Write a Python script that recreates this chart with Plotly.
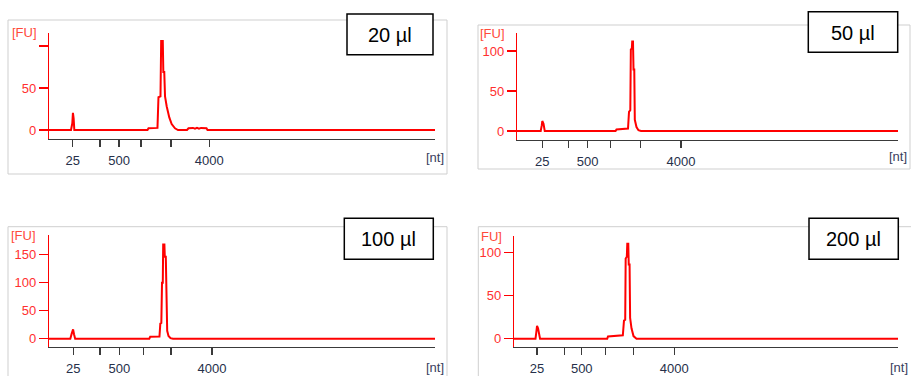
import plotly.graph_objects as go

W, H = 911, 376

# ---------------- data ----------------
panel_labels = ["20 µl", "50 µl", "100 µl", "200 µl"]

# migration time (s) and fluorescence (FU)
t_20 = [19.0, 21.85, 22.02, 22.10, 22.19, 22.28, 31.76, 31.89, 33.05, 33.18, 33.44, 33.53, 33.74, 33.81,
        33.93, 34.03, 34.25, 34.58, 34.89, 35.32, 35.71, 36.88, 37.07, 37.65, 37.91, 38.17, 38.43, 38.69,
        39.40, 39.53, 69.0]
fu_20 = [0, 0, 8, 20.5, 14, 0, 0, 2, 2.5, 39, 40, 106, 106, 69,
         69, 40, 28, 15, 7, 2, 0, 0, 2, 2.5, 1.5, 2.5, 1.5, 2.5,
         2, 0, 0]

t_50 = [19.0, 22.11, 22.25, 22.32, 22.48, 22.64, 31.93, 32.06, 33.57, 33.70, 33.87, 33.94, 34.07, 34.12,
        34.22, 34.29, 34.39, 34.46, 34.68, 34.94, 35.27, 69.0]
fu_50 = [0, 0, 7, 12.5, 9, 0, 0, 2, 3, 24, 26, 102, 103, 112,
         112, 77, 77, 14, 5, 1, 0, 0]

t_100 = [19.0, 21.76, 21.94, 22.12, 22.24, 22.39, 31.99, 32.11, 33.31, 33.42, 33.55, 33.64, 33.74, 33.79,
         33.95, 34.00, 34.13, 34.22, 34.31, 34.48, 34.74, 35.06, 69.0]
fu_100 = [0, 0, 9, 16.7, 8, 0, 0, 3.5, 4, 27, 28, 100, 100, 168,
          168, 146, 146, 45, 14, 5, 1, 0, 0]

t_200 = [19.0, 21.80, 21.90, 22.00, 22.13, 22.23, 22.39, 31.14, 31.24, 33.17, 33.32, 33.48, 33.54, 33.69,
         33.75, 33.88, 33.94, 34.05, 34.12, 34.30, 34.56, 34.95, 69.0]
fu_200 = [0, 0, 7, 14.8, 12, 7, 0, 0, 2.5, 4, 21, 22, 93, 95,
          110, 110, 86, 86, 24, 12, 3, 0, 0]

# ladder positions (s) for 25, 200, 500, 1000, 2000, 4000 nt
ladder_nt = ["25", "", "500", "", "", "4000"]
ladder_20 = [22.07, 25.61, 28.07, 30.92, 34.80, 39.76]
ladder_50 = [22.32, 25.73, 28.28, 31.24, 35.18, 40.52]
ladder_100 = [22.15, 25.61, 28.11, 31.21, 34.80, 40.11]
ladder_200 = [21.99, 25.55, 27.82, 30.94, 34.59, 39.87]

y_ticks_20 = [0, 50, 100]
y_text_20 = ["0", "50", ""]
y_ticks_50 = [0, 50, 100]
y_text_50 = ["0", "50", "100"]
y_ticks_100 = [0, 50, 100, 150]
y_text_100 = ["0", "50", "100", "150"]
y_ticks_200 = [0, 50, 100]
y_text_200 = ["0", "50", "100"]

# ---------------- layout helpers ----------------
def px(x):
    return x / W

def py(y):
    return 1 - y / H

panels = [
    dict(t=t_20, fu=fu_20, ladder=ladder_20, yt=y_ticks_20, ytt=y_text_20,
         xd=(49, 435), yd=(33, 139), yr=(-10.7, 115.5),
         border=(8, 20, 447, 174), box=(347, 14, 433, 54.7),
         fu_pos=(10, 33), fu_txt="[FU]", nt_pos=(446, 157.5)),
    dict(t=t_50, fu=fu_50, ladder=ladder_50, yt=y_ticks_50, ytt=y_text_50,
         xd=(517, 898), yd=(33, 140), yr=(-11.25, 122.5),
         border=(478, 25, 910, 169), box=(808.3, 11.7, 897.7, 52.3),
         fu_pos=(478, 33.3), fu_txt="[FU]", nt_pos=(909, 156)),
    dict(t=t_100, fu=fu_100, ladder=ladder_100, yt=y_ticks_100, ytt=y_text_100,
         xd=(49, 435), yd=(235, 347), yr=(-14.8, 185),
         border=(8, 226.7, 447, 390), box=(344.3, 218.3, 433.3, 259.3),
         fu_pos=(8.5, 235), fu_txt="[FU]", nt_pos=(446, 367)),
    dict(t=t_200, fu=fu_200, ladder=ladder_200, yt=y_ticks_200, ytt=y_text_200,
         xd=(514, 898), yd=(235.7, 347), yr=(-9.65, 119.4),
         border=(478.3, 226.7, 920, 390), box=(809, 218.3, 898.3, 259.3),
         fu_pos=(478.5, 236.7), fu_txt="FU]", nt_pos=(910, 367)),
]

RED = "#ff0000"
TXT_RED = "#ff3030"
TXT_DARK = "#26304a"
FONT = "Liberation Sans, Arial, sans-serif"

fig = go.Figure()
shapes = []
annotations = []
layout = dict(width=W, height=H, margin=dict(l=0, r=0, t=0, b=0),
              paper_bgcolor="white", plot_bgcolor="white", showlegend=False)

# panel borders first
for p in panels:
    x0, y0, x1, y1 = p["border"]
    shapes.append(dict(type="rect", xref="paper", yref="paper",
                       x0=px(x0), x1=px(x1), y0=py(y1), y1=py(y0),
                       line=dict(color="#cfcfcf", width=1), fillcolor="rgba(0,0,0,0)", layer="below"))

for i, p in enumerate(panels):
    n = i + 1
    xa = "x" if n == 1 else f"x{n}"
    ya = "y" if n == 1 else f"y{n}"
    fig.add_trace(go.Scatter(x=p["t"], y=p["fu"], mode="lines",
                             line=dict(color=RED, width=2),
                             xaxis=xa, yaxis=ya, hoverinfo="skip"))
    xkey = "xaxis" if n == 1 else f"xaxis{n}"
    ykey = "yaxis" if n == 1 else f"yaxis{n}"
    layout[xkey] = dict(domain=[px(p["xd"][0]), px(p["xd"][1])], range=[19, 69],
                        anchor=ya, showgrid=False, zeroline=False,
                        showline=True, linecolor="#3a3a3a", linewidth=1.3,
                        ticks="outside", ticklen=7, tickwidth=1.3, tickcolor="#3a3a3a",
                        tickmode="array", tickvals=p["ladder"], ticktext=ladder_nt,
                        tickfont=dict(family=FONT, size=13, color=TXT_DARK),
                        ticklabelstandoff=2, fixedrange=True)
    layout[ykey] = dict(domain=[py(p["yd"][1]), py(p["yd"][0])], range=list(p["yr"]),
                        anchor=xa, showgrid=False, zeroline=False,
                        showline=True, linecolor=RED, linewidth=1.2,
                        ticks="outside", ticklen=9, tickwidth=1.2, tickcolor=RED,
                        tickmode="array", tickvals=p["yt"], ticktext=p["ytt"],
                        tickfont=dict(family=FONT, size=13, color=TXT_RED),
                        fixedrange=True)
    # [FU] and [nt] unit labels
    annotations.append(dict(x=px(p["fu_pos"][0]), y=py(p["fu_pos"][1]), xref="paper", yref="paper",
                            text=p["fu_txt"], showarrow=False, xanchor="left", yanchor="middle",
                            font=dict(family=FONT, size=13, color="#ff4a3a")))
    annotations.append(dict(x=px(p["nt_pos"][0]), y=py(p["nt_pos"][1]), xref="paper", yref="paper",
                            text="[nt]", showarrow=False, xanchor="right", yanchor="middle",
                            font=dict(family=FONT, size=13, color="#3a4060")))
    # volume label box
    bx0, by0, bx1, by1 = p["box"]
    shapes.append(dict(type="rect", xref="paper", yref="paper",
                       x0=px(bx0), x1=px(bx1), y0=py(by1), y1=py(by0),
                       line=dict(color="black", width=1.5), fillcolor="white", layer="above"))
    annotations.append(dict(x=px((bx0 + bx1) / 2), y=py((by0 + by1) / 2 + 0.5), xref="paper", yref="paper",
                            text=panel_labels[i], showarrow=False, xanchor="center", yanchor="middle",
                            font=dict(family="Liberation Sans, Arial, sans-serif", size=20, color="black")))

layout["shapes"] = shapes
layout["annotations"] = annotations
fig.update_layout(**layout)
fig.write_html("out.html", config={"displayModeBar": False, "staticPlot": True},
               post_script="document.body.style.margin='0';document.body.style.overflow='hidden';")
